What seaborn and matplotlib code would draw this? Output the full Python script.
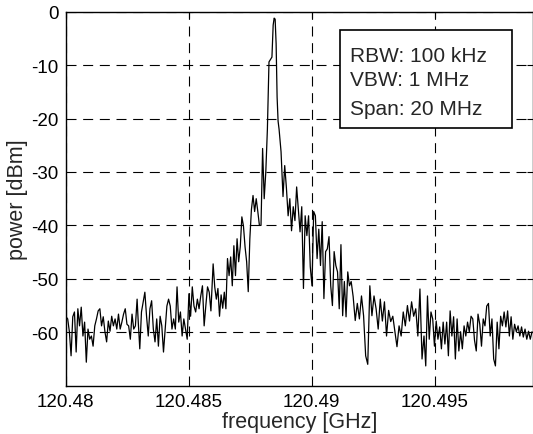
import numpy as np
import pandas as pd
import matplotlib
matplotlib.use('Agg')
import matplotlib.pyplot as plt
from matplotlib.patches import Rectangle
import seaborn as sns

# spectrum trace (power in dBm)
# segment frequency bounds in GHz; noise segments are on an even sweep grid
seg_left_a = (120.48002, 120.48291)
power_left_a = [-57.1, -57.5, -59.9, -64.4, -57.1, -56.2, -63.7, -55.6, -58.8, -55.3,
                -60.7, -58.1, -65.6, -59.4, -61.3, -60.7, -62.6, -58.8, -57.5, -56.0,
                -55.6, -58.8, -57.1, -59.9, -61.8, -57.9, -59.8, -57.0, -58.8, -57.5,
                -59.4, -56.6, -59.4, -58.1, -56.6, -55.6, -58.5, -58.8, -61.3, -56.6,
                -59.4, -58.8, -53.8]

seg_left_b = (120.48295, 120.48591)
power_left_b = [-57.5, -63.1, -56.2, -54.3, -52.5, -57.0, -60.7, -55.6, -54.1, -59.4,
                -61.8, -57.5, -62.6, -57.0, -58.8, -63.7, -59.4, -55.1, -53.8, -55.1,
                -59.4, -57.5, -59.4, -51.5, -58.1, -56.2, -60.7, -57.5, -59.4, -61.3,
                -52.8, -57.0, -51.5, -55.1, -56.2, -53.8, -55.6, -53.2, -51.3, -58.8,
                -55.0, -51.5, -52.5, -56.0]

seg_rise = (120.48600, 120.48827)
power_rise = [-47.2, -51.5, -53.8, -51.8, -57.0, -53.0, -55.5, -52.5, -55.6, -46.2,
              -49.4, -45.9, -51.3, -43.8, -49.4, -42.5, -46.8, -44.0, -38.4, -40.1,
              -44.0, -46.8, -52.4, -42.5, -37.0, -34.4, -37.4, -35.0, -37.4, -40.0,
              -40.0, -25.6, -35.0, -30.0, -22.0, -9.4]

peak_freq = [120.48835, 120.48839, 120.48844, 120.48848, 120.48852,
             120.48856, 120.48860, 120.48864, 120.48868, 120.48876]
peak_power = [-8.8, -8.5, -2.5, -1.2, -1.4, -6.0, -16.0, -20.5, -22.0, -26.2]

seg_fall = (120.48884, 120.49161)
power_fall = [-34.6, -28.8, -33.0, -38.2, -35.0, -41.0, -36.5, -39.1, -32.8, -37.0,
              -41.2, -36.5, -51.8, -38.2, -41.9, -38.2, -47.7, -51.3, -37.4, -38.2,
              -46.2, -40.7, -47.5, -39.3, -53.7, -44.9, -44.4, -42.1, -51.3, -55.0,
              -44.9, -47.5, -48.7, -55.6, -43.6, -56.9, -50.5, -57.1, -48.7, -51.3,
              -50.5]

seg_right_a = (120.49169, 120.49449)
power_right_a = [-53.3, -57.8, -54.6, -57.5, -53.2, -56.9, -64.4, -66.0, -51.3, -56.9,
                 -53.2, -55.6, -59.4, -53.8, -57.9, -54.3, -60.7, -55.9, -58.0, -57.0,
                 -59.9, -62.7, -58.8, -60.7, -56.2, -58.8, -55.0, -57.9, -54.3, -57.0,
                 -55.6, -60.7, -51.9, -65.0]

seg_right_b = (120.49457, 120.49896)
power_right_b = [-60.7, -66.3, -53.2, -61.3, -56.2, -57.5, -62.6, -57.9, -61.3, -59.0,
                 -63.1, -58.1, -62.2, -58.1, -64.4, -56.0, -60.7, -57.1, -65.0, -57.5,
                 -63.5, -59.9, -63.1, -58.8, -60.7, -58.1, -59.9, -57.0, -57.5, -61.5,
                 -63.5, -56.6, -58.5, -62.6, -57.5, -58.8, -55.1, -54.6, -60.7, -57.5,
                 -65.0, -66.3, -58.1, -63.1, -57.0, -58.8, -56.2, -59.0, -56.0, -60.7,
                 -57.1, -61.3, -58.5, -59.9, -58.8, -60.7, -59.0, -60.9, -59.4, -61.3,
                 -59.8, -61.3, -59.9]

x_ticks = [120.48, 120.485, 120.49, 120.495]
x_tick_labels = ['120.48', '120.485', '120.49', '120.495']
y_ticks = [-60, -50, -40, -30, -20, -10, 0]
info_lines = ['RBW: 100 kHz', 'VBW: 1 MHz', 'Span: 20 MHz']


def sweep(bounds, values):
    return np.linspace(bounds[0], bounds[1], len(values))


freq = np.concatenate([
    sweep(seg_left_a, power_left_a),
    sweep(seg_left_b, power_left_b),
    sweep(seg_rise, power_rise),
    np.array(peak_freq),
    sweep(seg_fall, power_fall),
    sweep(seg_right_a, power_right_a),
    sweep(seg_right_b, power_right_b),
])
power = np.concatenate([power_left_a, power_left_b, power_rise, peak_power,
                        power_fall, power_right_a, power_right_b])
df = pd.DataFrame({'freq': freq, 'power': power})

sns.set_style('white')
plt.rcParams['font.family'] = ['Liberation Sans', 'DejaVu Sans']
plt.rcParams['axes.unicode_minus'] = False

fig = plt.figure(figsize=(5.33, 4.35), dpi=100)
ax = fig.add_axes([65.5 / 533, 48.3 / 435, 1 - 65.5 / 533, 374 / 435])

sns.lineplot(data=df, x='freq', y='power', ax=ax, color='black', lw=0.9,
             estimator=None, sort=False)

ax.set_xlim(120.48, 120.499)
ax.set_ylim(-70, 0)
ax.set_xticks(x_ticks)
ax.set_xticklabels(x_tick_labels)
ax.set_yticks(y_ticks)
ax.tick_params(direction='in', length=4, width=0.8, labelsize=13.5,
               top=True, right=True, colors='black', pad=5)

ax.grid(True, color='black', linestyle=(0, (9, 6)), linewidth=0.8)
ax.set_axisbelow(True)
for s in ax.spines.values():
    s.set_color('black')
    s.set_linewidth(1.0)

ax.set_xlabel('frequency [GHz]', fontsize=15.5, labelpad=1)
ax.set_ylabel('power [dBm]', fontsize=15.5, labelpad=2)

# info box
box = Rectangle((0.587, 0.690), 0.368, 0.262, transform=ax.transAxes,
                facecolor='white', edgecolor='black', lw=1.2, zorder=5)
ax.add_patch(box)
for line, yb in zip(info_lines, [0.869, 0.805, 0.727]):
    ax.text(0.609, yb, line, transform=ax.transAxes, fontsize=15, va='baseline',
            ha='left', zorder=6)

fig.savefig('out.png', dpi=100)
